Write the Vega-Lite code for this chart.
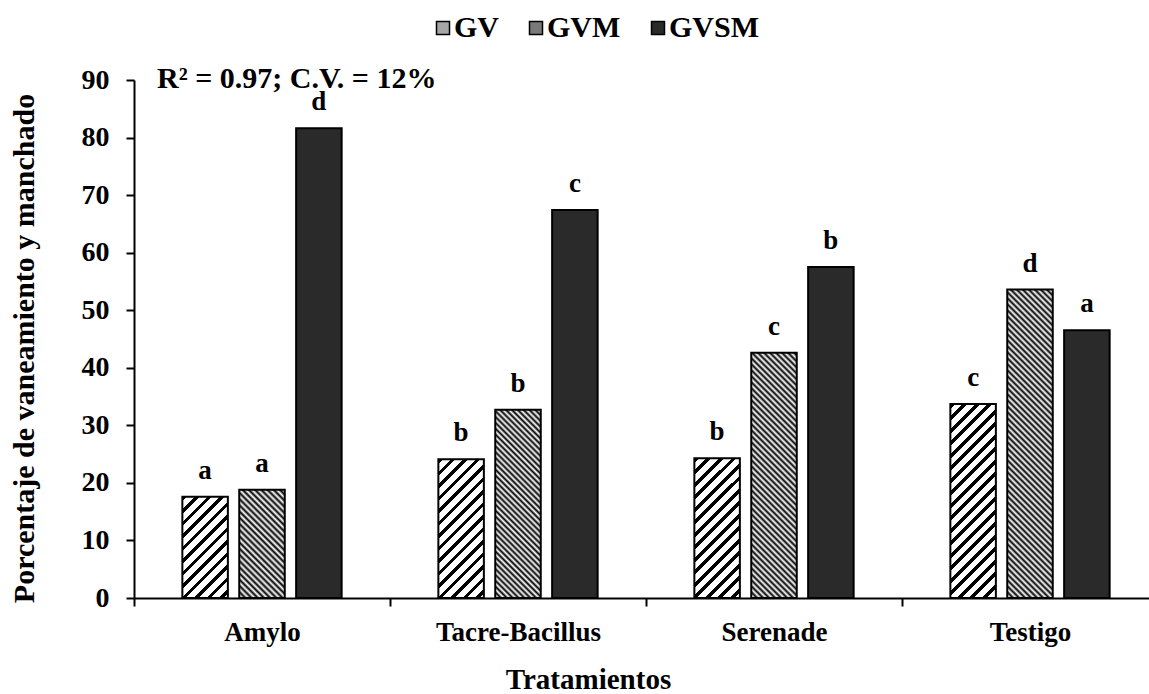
{
"$schema":"https://vega.github.io/schema/vega-lite/v6.json",
"autosize":{"type":"none"},
"width":1015,"height":518,
"padding":{"left":134,"top":80,"right":0,"bottom":96},
"background":"white",
"config":{"view":{"stroke":null},"font":"Liberation Serif",
"axis":{"domainColor":"black","domainWidth":2,"tickColor":"black","tickWidth":2,"tickSize":8,"labelColor":"black","labelFont":"Liberation Serif","labelFontWeight":"bold","labelFontSize":27,"titleColor":"black","titleFont":"Liberation Serif","titleFontWeight":"bold","titleFontSize":29,"grid":false}},
"data":{"values":[
{"trat":"Amylo","serie":"GV","v":17.6,"l":"a"},
{"trat":"Amylo","serie":"GVM","v":18.8,"l":"a"},
{"trat":"Amylo","serie":"GVSM","v":81.6,"l":"d"},
{"trat":"Tacre-Bacillus","serie":"GV","v":24.1,"l":"b"},
{"trat":"Tacre-Bacillus","serie":"GVM","v":32.7,"l":"b"},
{"trat":"Tacre-Bacillus","serie":"GVSM","v":67.4,"l":"c"},
{"trat":"Serenade","serie":"GV","v":24.3,"l":"b"},
{"trat":"Serenade","serie":"GVM","v":42.6,"l":"c"},
{"trat":"Serenade","serie":"GVSM","v":57.5,"l":"b"},
{"trat":"Testigo","serie":"GV","v":33.7,"l":"c"},
{"trat":"Testigo","serie":"GVM","v":53.6,"l":"d"},
{"trat":"Testigo","serie":"GVSM","v":46.5,"l":"a"}
]},
"encoding":{
"x":{"field":"trat","type":"nominal","scale":{"domain":["Amylo","Tacre-Bacillus","Serenade","Testigo"],"range":[0,1024],"paddingInner":0,"paddingOuter":0},"axis":{"title":"Tratamientos","labelAngle":0,"tickBand":"extent","labelPadding":13,"titlePadding":20,"titleX":454}},
"xOffset":{"field":"serie","type":"nominal","scale":{"domain":["GV","GVM","GVSM"],"paddingInner":0.2,"paddingOuter":0.85}},
"y":{"field":"v","type":"quantitative","scale":{"domain":[0,90],"nice":false},"axis":{"title":"Porcentaje de vaneamiento y manchado","values":[0,10,20,30,40,50,60,70,80,90],"labelFontSize":28,"labelPadding":17,"titleFontSize":30,"titlePadding":42,"titleY":268}}
},
"layer":[
{"mark":{"type":"bar","stroke":"black","strokeWidth":2},
"encoding":{
"fill":{"field":"serie","type":"nominal",
"scale":{"domain":["GV","GVM","GVSM"],"range":["#a6a6a6","#7a7a7a","#2a2a2a"]},
"legend":{"orient":"none","legendX":294,"legendY":-67,"direction":"horizontal","columns":3,"title":null,"symbolType":"square","symbolSize":169,"symbolStrokeColor":"black","symbolStrokeWidth":1.5,"symbolOpacity":1,"labelFont":"Liberation Serif","labelFontSize":30,"labelFontWeight":"bold","labelColor":"black","labelOffset":-4,"columnPadding":22},
"condition":[
{"test":"datum.serie=='GV'&&datum.trat=='Amylo'","value":{"gradient":"linear","x1":0,"y1":0,"x2":0.9224,"y2":2.0536,"stops":[{"offset":0,"color":"#000"},{"offset":0.019,"color":"#000"},{"offset":0.019,"color":"#fff"},{"offset":0.05,"color":"#fff"},{"offset":0.05,"color":"#000"},{"offset":0.069,"color":"#000"},{"offset":0.069,"color":"#fff"},{"offset":0.1,"color":"#fff"},{"offset":0.1,"color":"#000"},{"offset":0.119,"color":"#000"},{"offset":0.119,"color":"#fff"},{"offset":0.15,"color":"#fff"},{"offset":0.15,"color":"#000"},{"offset":0.169,"color":"#000"},{"offset":0.169,"color":"#fff"},{"offset":0.2,"color":"#fff"},{"offset":0.2,"color":"#000"},{"offset":0.219,"color":"#000"},{"offset":0.219,"color":"#fff"},{"offset":0.25,"color":"#fff"},{"offset":0.25,"color":"#000"},{"offset":0.269,"color":"#000"},{"offset":0.269,"color":"#fff"},{"offset":0.3,"color":"#fff"},{"offset":0.3,"color":"#000"},{"offset":0.319,"color":"#000"},{"offset":0.319,"color":"#fff"},{"offset":0.35,"color":"#fff"},{"offset":0.35,"color":"#000"},{"offset":0.369,"color":"#000"},{"offset":0.369,"color":"#fff"},{"offset":0.4,"color":"#fff"},{"offset":0.4,"color":"#000"},{"offset":0.419,"color":"#000"},{"offset":0.419,"color":"#fff"},{"offset":0.45,"color":"#fff"},{"offset":0.45,"color":"#000"},{"offset":0.469,"color":"#000"},{"offset":0.469,"color":"#fff"},{"offset":0.5,"color":"#fff"},{"offset":0.5,"color":"#000"},{"offset":0.519,"color":"#000"},{"offset":0.519,"color":"#fff"},{"offset":0.55,"color":"#fff"},{"offset":0.55,"color":"#000"},{"offset":0.569,"color":"#000"},{"offset":0.569,"color":"#fff"},{"offset":0.6,"color":"#fff"},{"offset":0.6,"color":"#000"},{"offset":0.619,"color":"#000"},{"offset":0.619,"color":"#fff"},{"offset":0.65,"color":"#fff"},{"offset":0.65,"color":"#000"},{"offset":0.669,"color":"#000"},{"offset":0.669,"color":"#fff"},{"offset":0.7,"color":"#fff"},{"offset":0.7,"color":"#000"},{"offset":0.719,"color":"#000"},{"offset":0.719,"color":"#fff"},{"offset":0.75,"color":"#fff"},{"offset":0.75,"color":"#000"},{"offset":0.769,"color":"#000"},{"offset":0.769,"color":"#fff"},{"offset":0.8,"color":"#fff"},{"offset":0.8,"color":"#000"},{"offset":0.819,"color":"#000"},{"offset":0.819,"color":"#fff"},{"offset":0.85,"color":"#fff"},{"offset":0.85,"color":"#000"},{"offset":0.869,"color":"#000"},{"offset":0.869,"color":"#fff"},{"offset":0.9,"color":"#fff"},{"offset":0.9,"color":"#000"},{"offset":0.919,"color":"#000"},{"offset":0.919,"color":"#fff"},{"offset":0.95,"color":"#fff"},{"offset":0.95,"color":"#000"},{"offset":0.969,"color":"#000"},{"offset":0.969,"color":"#fff"},{"offset":1,"color":"#fff"}]}},
{"test":"datum.serie=='GV'&&datum.trat=='Tacre-Bacillus'","value":{"gradient":"linear","x1":0,"y1":0,"x2":0.5338,"y2":1.6273,"stops":[{"offset":0,"color":"#000"},{"offset":0.019,"color":"#000"},{"offset":0.019,"color":"#fff"},{"offset":0.05,"color":"#fff"},{"offset":0.05,"color":"#000"},{"offset":0.069,"color":"#000"},{"offset":0.069,"color":"#fff"},{"offset":0.1,"color":"#fff"},{"offset":0.1,"color":"#000"},{"offset":0.119,"color":"#000"},{"offset":0.119,"color":"#fff"},{"offset":0.15,"color":"#fff"},{"offset":0.15,"color":"#000"},{"offset":0.169,"color":"#000"},{"offset":0.169,"color":"#fff"},{"offset":0.2,"color":"#fff"},{"offset":0.2,"color":"#000"},{"offset":0.219,"color":"#000"},{"offset":0.219,"color":"#fff"},{"offset":0.25,"color":"#fff"},{"offset":0.25,"color":"#000"},{"offset":0.269,"color":"#000"},{"offset":0.269,"color":"#fff"},{"offset":0.3,"color":"#fff"},{"offset":0.3,"color":"#000"},{"offset":0.319,"color":"#000"},{"offset":0.319,"color":"#fff"},{"offset":0.35,"color":"#fff"},{"offset":0.35,"color":"#000"},{"offset":0.369,"color":"#000"},{"offset":0.369,"color":"#fff"},{"offset":0.4,"color":"#fff"},{"offset":0.4,"color":"#000"},{"offset":0.419,"color":"#000"},{"offset":0.419,"color":"#fff"},{"offset":0.45,"color":"#fff"},{"offset":0.45,"color":"#000"},{"offset":0.469,"color":"#000"},{"offset":0.469,"color":"#fff"},{"offset":0.5,"color":"#fff"},{"offset":0.5,"color":"#000"},{"offset":0.519,"color":"#000"},{"offset":0.519,"color":"#fff"},{"offset":0.55,"color":"#fff"},{"offset":0.55,"color":"#000"},{"offset":0.569,"color":"#000"},{"offset":0.569,"color":"#fff"},{"offset":0.6,"color":"#fff"},{"offset":0.6,"color":"#000"},{"offset":0.619,"color":"#000"},{"offset":0.619,"color":"#fff"},{"offset":0.65,"color":"#fff"},{"offset":0.65,"color":"#000"},{"offset":0.669,"color":"#000"},{"offset":0.669,"color":"#fff"},{"offset":0.7,"color":"#fff"},{"offset":0.7,"color":"#000"},{"offset":0.719,"color":"#000"},{"offset":0.719,"color":"#fff"},{"offset":0.75,"color":"#fff"},{"offset":0.75,"color":"#000"},{"offset":0.769,"color":"#000"},{"offset":0.769,"color":"#fff"},{"offset":0.8,"color":"#fff"},{"offset":0.8,"color":"#000"},{"offset":0.819,"color":"#000"},{"offset":0.819,"color":"#fff"},{"offset":0.85,"color":"#fff"},{"offset":0.85,"color":"#000"},{"offset":0.869,"color":"#000"},{"offset":0.869,"color":"#fff"},{"offset":0.9,"color":"#fff"},{"offset":0.9,"color":"#000"},{"offset":0.919,"color":"#000"},{"offset":0.919,"color":"#fff"},{"offset":0.95,"color":"#fff"},{"offset":0.95,"color":"#000"},{"offset":0.969,"color":"#000"},{"offset":0.969,"color":"#fff"},{"offset":1,"color":"#fff"}]}},
{"test":"datum.serie=='GV'&&datum.trat=='Serenade'","value":{"gradient":"linear","x1":0,"y1":0,"x2":0.5256,"y2":1.6161,"stops":[{"offset":0,"color":"#000"},{"offset":0.019,"color":"#000"},{"offset":0.019,"color":"#fff"},{"offset":0.05,"color":"#fff"},{"offset":0.05,"color":"#000"},{"offset":0.069,"color":"#000"},{"offset":0.069,"color":"#fff"},{"offset":0.1,"color":"#fff"},{"offset":0.1,"color":"#000"},{"offset":0.119,"color":"#000"},{"offset":0.119,"color":"#fff"},{"offset":0.15,"color":"#fff"},{"offset":0.15,"color":"#000"},{"offset":0.169,"color":"#000"},{"offset":0.169,"color":"#fff"},{"offset":0.2,"color":"#fff"},{"offset":0.2,"color":"#000"},{"offset":0.219,"color":"#000"},{"offset":0.219,"color":"#fff"},{"offset":0.25,"color":"#fff"},{"offset":0.25,"color":"#000"},{"offset":0.269,"color":"#000"},{"offset":0.269,"color":"#fff"},{"offset":0.3,"color":"#fff"},{"offset":0.3,"color":"#000"},{"offset":0.319,"color":"#000"},{"offset":0.319,"color":"#fff"},{"offset":0.35,"color":"#fff"},{"offset":0.35,"color":"#000"},{"offset":0.369,"color":"#000"},{"offset":0.369,"color":"#fff"},{"offset":0.4,"color":"#fff"},{"offset":0.4,"color":"#000"},{"offset":0.419,"color":"#000"},{"offset":0.419,"color":"#fff"},{"offset":0.45,"color":"#fff"},{"offset":0.45,"color":"#000"},{"offset":0.469,"color":"#000"},{"offset":0.469,"color":"#fff"},{"offset":0.5,"color":"#fff"},{"offset":0.5,"color":"#000"},{"offset":0.519,"color":"#000"},{"offset":0.519,"color":"#fff"},{"offset":0.55,"color":"#fff"},{"offset":0.55,"color":"#000"},{"offset":0.569,"color":"#000"},{"offset":0.569,"color":"#fff"},{"offset":0.6,"color":"#fff"},{"offset":0.6,"color":"#000"},{"offset":0.619,"color":"#000"},{"offset":0.619,"color":"#fff"},{"offset":0.65,"color":"#fff"},{"offset":0.65,"color":"#000"},{"offset":0.669,"color":"#000"},{"offset":0.669,"color":"#fff"},{"offset":0.7,"color":"#fff"},{"offset":0.7,"color":"#000"},{"offset":0.719,"color":"#000"},{"offset":0.719,"color":"#fff"},{"offset":0.75,"color":"#fff"},{"offset":0.75,"color":"#000"},{"offset":0.769,"color":"#000"},{"offset":0.769,"color":"#fff"},{"offset":0.8,"color":"#fff"},{"offset":0.8,"color":"#000"},{"offset":0.819,"color":"#000"},{"offset":0.819,"color":"#fff"},{"offset":0.85,"color":"#fff"},{"offset":0.85,"color":"#000"},{"offset":0.869,"color":"#000"},{"offset":0.869,"color":"#fff"},{"offset":0.9,"color":"#fff"},{"offset":0.9,"color":"#000"},{"offset":0.919,"color":"#000"},{"offset":0.919,"color":"#fff"},{"offset":0.95,"color":"#fff"},{"offset":0.95,"color":"#000"},{"offset":0.969,"color":"#000"},{"offset":0.969,"color":"#fff"},{"offset":1,"color":"#fff"}]}},
{"test":"datum.serie=='GV'&&datum.trat=='Testigo'","value":{"gradient":"linear","x1":0,"y1":0,"x2":0.2865,"y2":1.2215,"stops":[{"offset":0,"color":"#000"},{"offset":0.019,"color":"#000"},{"offset":0.019,"color":"#fff"},{"offset":0.05,"color":"#fff"},{"offset":0.05,"color":"#000"},{"offset":0.069,"color":"#000"},{"offset":0.069,"color":"#fff"},{"offset":0.1,"color":"#fff"},{"offset":0.1,"color":"#000"},{"offset":0.119,"color":"#000"},{"offset":0.119,"color":"#fff"},{"offset":0.15,"color":"#fff"},{"offset":0.15,"color":"#000"},{"offset":0.169,"color":"#000"},{"offset":0.169,"color":"#fff"},{"offset":0.2,"color":"#fff"},{"offset":0.2,"color":"#000"},{"offset":0.219,"color":"#000"},{"offset":0.219,"color":"#fff"},{"offset":0.25,"color":"#fff"},{"offset":0.25,"color":"#000"},{"offset":0.269,"color":"#000"},{"offset":0.269,"color":"#fff"},{"offset":0.3,"color":"#fff"},{"offset":0.3,"color":"#000"},{"offset":0.319,"color":"#000"},{"offset":0.319,"color":"#fff"},{"offset":0.35,"color":"#fff"},{"offset":0.35,"color":"#000"},{"offset":0.369,"color":"#000"},{"offset":0.369,"color":"#fff"},{"offset":0.4,"color":"#fff"},{"offset":0.4,"color":"#000"},{"offset":0.419,"color":"#000"},{"offset":0.419,"color":"#fff"},{"offset":0.45,"color":"#fff"},{"offset":0.45,"color":"#000"},{"offset":0.469,"color":"#000"},{"offset":0.469,"color":"#fff"},{"offset":0.5,"color":"#fff"},{"offset":0.5,"color":"#000"},{"offset":0.519,"color":"#000"},{"offset":0.519,"color":"#fff"},{"offset":0.55,"color":"#fff"},{"offset":0.55,"color":"#000"},{"offset":0.569,"color":"#000"},{"offset":0.569,"color":"#fff"},{"offset":0.6,"color":"#fff"},{"offset":0.6,"color":"#000"},{"offset":0.619,"color":"#000"},{"offset":0.619,"color":"#fff"},{"offset":0.65,"color":"#fff"},{"offset":0.65,"color":"#000"},{"offset":0.669,"color":"#000"},{"offset":0.669,"color":"#fff"},{"offset":0.7,"color":"#fff"},{"offset":0.7,"color":"#000"},{"offset":0.719,"color":"#000"},{"offset":0.719,"color":"#fff"},{"offset":0.75,"color":"#fff"},{"offset":0.75,"color":"#000"},{"offset":0.769,"color":"#000"},{"offset":0.769,"color":"#fff"},{"offset":0.8,"color":"#fff"},{"offset":0.8,"color":"#000"},{"offset":0.819,"color":"#000"},{"offset":0.819,"color":"#fff"},{"offset":0.85,"color":"#fff"},{"offset":0.85,"color":"#000"},{"offset":0.869,"color":"#000"},{"offset":0.869,"color":"#fff"},{"offset":0.9,"color":"#fff"},{"offset":0.9,"color":"#000"},{"offset":0.919,"color":"#000"},{"offset":0.919,"color":"#fff"},{"offset":0.95,"color":"#fff"},{"offset":0.95,"color":"#000"},{"offset":0.969,"color":"#000"},{"offset":0.969,"color":"#fff"},{"offset":1,"color":"#fff"}]}},
{"test":"datum.serie=='GVM'&&datum.trat=='Amylo'","value":{"gradient":"linear","x1":0,"y1":1,"x2":0.5119,"y2":-0.2173,"stops":[{"offset":0,"color":"#000"},{"offset":0.02,"color":"#fff"},{"offset":0.04,"color":"#000"},{"offset":0.06,"color":"#fff"},{"offset":0.08,"color":"#000"},{"offset":0.1,"color":"#fff"},{"offset":0.12,"color":"#000"},{"offset":0.14,"color":"#fff"},{"offset":0.16,"color":"#000"},{"offset":0.18,"color":"#fff"},{"offset":0.2,"color":"#000"},{"offset":0.22,"color":"#fff"},{"offset":0.24,"color":"#000"},{"offset":0.26,"color":"#fff"},{"offset":0.28,"color":"#000"},{"offset":0.3,"color":"#fff"},{"offset":0.32,"color":"#000"},{"offset":0.34,"color":"#fff"},{"offset":0.36,"color":"#000"},{"offset":0.38,"color":"#fff"},{"offset":0.4,"color":"#000"},{"offset":0.42,"color":"#fff"},{"offset":0.44,"color":"#000"},{"offset":0.46,"color":"#fff"},{"offset":0.48,"color":"#000"},{"offset":0.5,"color":"#fff"},{"offset":0.52,"color":"#000"},{"offset":0.54,"color":"#fff"},{"offset":0.56,"color":"#000"},{"offset":0.58,"color":"#fff"},{"offset":0.6,"color":"#000"},{"offset":0.62,"color":"#fff"},{"offset":0.64,"color":"#000"},{"offset":0.66,"color":"#fff"},{"offset":0.68,"color":"#000"},{"offset":0.7,"color":"#fff"},{"offset":0.72,"color":"#000"},{"offset":0.74,"color":"#fff"},{"offset":0.76,"color":"#000"},{"offset":0.78,"color":"#fff"},{"offset":0.8,"color":"#000"},{"offset":0.82,"color":"#fff"},{"offset":0.84,"color":"#000"},{"offset":0.86,"color":"#fff"},{"offset":0.88,"color":"#000"},{"offset":0.9,"color":"#fff"},{"offset":0.92,"color":"#000"},{"offset":0.94,"color":"#fff"},{"offset":0.96,"color":"#000"},{"offset":0.98,"color":"#fff"},{"offset":1,"color":"#000"}]}},
{"test":"datum.serie=='GVM'&&datum.trat=='Tacre-Bacillus'","value":{"gradient":"linear","x1":0,"y1":1,"x2":0.284,"y2":-0.1747,"stops":[{"offset":0,"color":"#000"},{"offset":0.0125,"color":"#fff"},{"offset":0.025,"color":"#000"},{"offset":0.0375,"color":"#fff"},{"offset":0.05,"color":"#000"},{"offset":0.0625,"color":"#fff"},{"offset":0.075,"color":"#000"},{"offset":0.0875,"color":"#fff"},{"offset":0.1,"color":"#000"},{"offset":0.1125,"color":"#fff"},{"offset":0.125,"color":"#000"},{"offset":0.1375,"color":"#fff"},{"offset":0.15,"color":"#000"},{"offset":0.1625,"color":"#fff"},{"offset":0.175,"color":"#000"},{"offset":0.1875,"color":"#fff"},{"offset":0.2,"color":"#000"},{"offset":0.2125,"color":"#fff"},{"offset":0.225,"color":"#000"},{"offset":0.2375,"color":"#fff"},{"offset":0.25,"color":"#000"},{"offset":0.2625,"color":"#fff"},{"offset":0.275,"color":"#000"},{"offset":0.2875,"color":"#fff"},{"offset":0.3,"color":"#000"},{"offset":0.3125,"color":"#fff"},{"offset":0.325,"color":"#000"},{"offset":0.3375,"color":"#fff"},{"offset":0.35,"color":"#000"},{"offset":0.3625,"color":"#fff"},{"offset":0.375,"color":"#000"},{"offset":0.3875,"color":"#fff"},{"offset":0.4,"color":"#000"},{"offset":0.4125,"color":"#fff"},{"offset":0.425,"color":"#000"},{"offset":0.4375,"color":"#fff"},{"offset":0.45,"color":"#000"},{"offset":0.4625,"color":"#fff"},{"offset":0.475,"color":"#000"},{"offset":0.4875,"color":"#fff"},{"offset":0.5,"color":"#000"},{"offset":0.5125,"color":"#fff"},{"offset":0.525,"color":"#000"},{"offset":0.5375,"color":"#fff"},{"offset":0.55,"color":"#000"},{"offset":0.5625,"color":"#fff"},{"offset":0.575,"color":"#000"},{"offset":0.5875,"color":"#fff"},{"offset":0.6,"color":"#000"},{"offset":0.6125,"color":"#fff"},{"offset":0.625,"color":"#000"},{"offset":0.6375,"color":"#fff"},{"offset":0.65,"color":"#000"},{"offset":0.6625,"color":"#fff"},{"offset":0.675,"color":"#000"},{"offset":0.6875,"color":"#fff"},{"offset":0.7,"color":"#000"},{"offset":0.7125,"color":"#fff"},{"offset":0.725,"color":"#000"},{"offset":0.7375,"color":"#fff"},{"offset":0.75,"color":"#000"},{"offset":0.7625,"color":"#fff"},{"offset":0.775,"color":"#000"},{"offset":0.7875,"color":"#fff"},{"offset":0.8,"color":"#000"},{"offset":0.8125,"color":"#fff"},{"offset":0.825,"color":"#000"},{"offset":0.8375,"color":"#fff"},{"offset":0.85,"color":"#000"},{"offset":0.8625,"color":"#fff"},{"offset":0.875,"color":"#000"},{"offset":0.8875,"color":"#fff"},{"offset":0.9,"color":"#000"},{"offset":0.9125,"color":"#fff"},{"offset":0.925,"color":"#000"},{"offset":0.9375,"color":"#fff"},{"offset":0.95,"color":"#000"},{"offset":0.9625,"color":"#fff"},{"offset":0.975,"color":"#000"},{"offset":0.9875,"color":"#fff"},{"offset":1,"color":"#000"}]}},
{"test":"datum.serie=='GVM'&&datum.trat=='Serenade'","value":{"gradient":"linear","x1":0,"y1":1,"x2":0.2195,"y2":-0.1828,"stops":[{"offset":0,"color":"#000"},{"offset":0.01,"color":"#fff"},{"offset":0.02,"color":"#000"},{"offset":0.03,"color":"#fff"},{"offset":0.04,"color":"#000"},{"offset":0.05,"color":"#fff"},{"offset":0.06,"color":"#000"},{"offset":0.07,"color":"#fff"},{"offset":0.08,"color":"#000"},{"offset":0.09,"color":"#fff"},{"offset":0.1,"color":"#000"},{"offset":0.11,"color":"#fff"},{"offset":0.12,"color":"#000"},{"offset":0.13,"color":"#fff"},{"offset":0.14,"color":"#000"},{"offset":0.15,"color":"#fff"},{"offset":0.16,"color":"#000"},{"offset":0.17,"color":"#fff"},{"offset":0.18,"color":"#000"},{"offset":0.19,"color":"#fff"},{"offset":0.2,"color":"#000"},{"offset":0.21,"color":"#fff"},{"offset":0.22,"color":"#000"},{"offset":0.23,"color":"#fff"},{"offset":0.24,"color":"#000"},{"offset":0.25,"color":"#fff"},{"offset":0.26,"color":"#000"},{"offset":0.27,"color":"#fff"},{"offset":0.28,"color":"#000"},{"offset":0.29,"color":"#fff"},{"offset":0.3,"color":"#000"},{"offset":0.31,"color":"#fff"},{"offset":0.32,"color":"#000"},{"offset":0.33,"color":"#fff"},{"offset":0.34,"color":"#000"},{"offset":0.35,"color":"#fff"},{"offset":0.36,"color":"#000"},{"offset":0.37,"color":"#fff"},{"offset":0.38,"color":"#000"},{"offset":0.39,"color":"#fff"},{"offset":0.4,"color":"#000"},{"offset":0.41,"color":"#fff"},{"offset":0.42,"color":"#000"},{"offset":0.43,"color":"#fff"},{"offset":0.44,"color":"#000"},{"offset":0.45,"color":"#fff"},{"offset":0.46,"color":"#000"},{"offset":0.47,"color":"#fff"},{"offset":0.48,"color":"#000"},{"offset":0.49,"color":"#fff"},{"offset":0.5,"color":"#000"},{"offset":0.51,"color":"#fff"},{"offset":0.52,"color":"#000"},{"offset":0.53,"color":"#fff"},{"offset":0.54,"color":"#000"},{"offset":0.55,"color":"#fff"},{"offset":0.56,"color":"#000"},{"offset":0.57,"color":"#fff"},{"offset":0.58,"color":"#000"},{"offset":0.59,"color":"#fff"},{"offset":0.6,"color":"#000"},{"offset":0.61,"color":"#fff"},{"offset":0.62,"color":"#000"},{"offset":0.63,"color":"#fff"},{"offset":0.64,"color":"#000"},{"offset":0.65,"color":"#fff"},{"offset":0.66,"color":"#000"},{"offset":0.67,"color":"#fff"},{"offset":0.68,"color":"#000"},{"offset":0.69,"color":"#fff"},{"offset":0.7,"color":"#000"},{"offset":0.71,"color":"#fff"},{"offset":0.72,"color":"#000"},{"offset":0.73,"color":"#fff"},{"offset":0.74,"color":"#000"},{"offset":0.75,"color":"#fff"},{"offset":0.76,"color":"#000"},{"offset":0.77,"color":"#fff"},{"offset":0.78,"color":"#000"},{"offset":0.79,"color":"#fff"},{"offset":0.8,"color":"#000"},{"offset":0.81,"color":"#fff"},{"offset":0.82,"color":"#000"},{"offset":0.83,"color":"#fff"},{"offset":0.84,"color":"#000"},{"offset":0.85,"color":"#fff"},{"offset":0.86,"color":"#000"},{"offset":0.87,"color":"#fff"},{"offset":0.88,"color":"#000"},{"offset":0.89,"color":"#fff"},{"offset":0.9,"color":"#000"},{"offset":0.91,"color":"#fff"},{"offset":0.92,"color":"#000"},{"offset":0.93,"color":"#fff"},{"offset":0.94,"color":"#000"},{"offset":0.95,"color":"#fff"},{"offset":0.96,"color":"#000"},{"offset":0.97,"color":"#fff"},{"offset":0.98,"color":"#000"},{"offset":0.99,"color":"#fff"},{"offset":1,"color":"#000"}]}},
{"test":"datum.serie=='GVM'&&datum.trat=='Testigo'","value":{"gradient":"linear","x1":0,"y1":1,"x2":0.1684,"y2":-0.1421,"stops":[{"offset":0,"color":"#000"},{"offset":0.0083,"color":"#fff"},{"offset":0.0167,"color":"#000"},{"offset":0.025,"color":"#fff"},{"offset":0.0333,"color":"#000"},{"offset":0.0417,"color":"#fff"},{"offset":0.05,"color":"#000"},{"offset":0.0583,"color":"#fff"},{"offset":0.0667,"color":"#000"},{"offset":0.075,"color":"#fff"},{"offset":0.0833,"color":"#000"},{"offset":0.0917,"color":"#fff"},{"offset":0.1,"color":"#000"},{"offset":0.1083,"color":"#fff"},{"offset":0.1167,"color":"#000"},{"offset":0.125,"color":"#fff"},{"offset":0.1333,"color":"#000"},{"offset":0.1417,"color":"#fff"},{"offset":0.15,"color":"#000"},{"offset":0.1583,"color":"#fff"},{"offset":0.1667,"color":"#000"},{"offset":0.175,"color":"#fff"},{"offset":0.1833,"color":"#000"},{"offset":0.1917,"color":"#fff"},{"offset":0.2,"color":"#000"},{"offset":0.2083,"color":"#fff"},{"offset":0.2167,"color":"#000"},{"offset":0.225,"color":"#fff"},{"offset":0.2333,"color":"#000"},{"offset":0.2417,"color":"#fff"},{"offset":0.25,"color":"#000"},{"offset":0.2583,"color":"#fff"},{"offset":0.2667,"color":"#000"},{"offset":0.275,"color":"#fff"},{"offset":0.2833,"color":"#000"},{"offset":0.2917,"color":"#fff"},{"offset":0.3,"color":"#000"},{"offset":0.3083,"color":"#fff"},{"offset":0.3167,"color":"#000"},{"offset":0.325,"color":"#fff"},{"offset":0.3333,"color":"#000"},{"offset":0.3417,"color":"#fff"},{"offset":0.35,"color":"#000"},{"offset":0.3583,"color":"#fff"},{"offset":0.3667,"color":"#000"},{"offset":0.375,"color":"#fff"},{"offset":0.3833,"color":"#000"},{"offset":0.3917,"color":"#fff"},{"offset":0.4,"color":"#000"},{"offset":0.4083,"color":"#fff"},{"offset":0.4167,"color":"#000"},{"offset":0.425,"color":"#fff"},{"offset":0.4333,"color":"#000"},{"offset":0.4417,"color":"#fff"},{"offset":0.45,"color":"#000"},{"offset":0.4583,"color":"#fff"},{"offset":0.4667,"color":"#000"},{"offset":0.475,"color":"#fff"},{"offset":0.4833,"color":"#000"},{"offset":0.4917,"color":"#fff"},{"offset":0.5,"color":"#000"},{"offset":0.5083,"color":"#fff"},{"offset":0.5167,"color":"#000"},{"offset":0.525,"color":"#fff"},{"offset":0.5333,"color":"#000"},{"offset":0.5417,"color":"#fff"},{"offset":0.55,"color":"#000"},{"offset":0.5583,"color":"#fff"},{"offset":0.5667,"color":"#000"},{"offset":0.575,"color":"#fff"},{"offset":0.5833,"color":"#000"},{"offset":0.5917,"color":"#fff"},{"offset":0.6,"color":"#000"},{"offset":0.6083,"color":"#fff"},{"offset":0.6167,"color":"#000"},{"offset":0.625,"color":"#fff"},{"offset":0.6333,"color":"#000"},{"offset":0.6417,"color":"#fff"},{"offset":0.65,"color":"#000"},{"offset":0.6583,"color":"#fff"},{"offset":0.6667,"color":"#000"},{"offset":0.675,"color":"#fff"},{"offset":0.6833,"color":"#000"},{"offset":0.6917,"color":"#fff"},{"offset":0.7,"color":"#000"},{"offset":0.7083,"color":"#fff"},{"offset":0.7167,"color":"#000"},{"offset":0.725,"color":"#fff"},{"offset":0.7333,"color":"#000"},{"offset":0.7417,"color":"#fff"},{"offset":0.75,"color":"#000"},{"offset":0.7583,"color":"#fff"},{"offset":0.7667,"color":"#000"},{"offset":0.775,"color":"#fff"},{"offset":0.7833,"color":"#000"},{"offset":0.7917,"color":"#fff"},{"offset":0.8,"color":"#000"},{"offset":0.8083,"color":"#fff"},{"offset":0.8167,"color":"#000"},{"offset":0.825,"color":"#fff"},{"offset":0.8333,"color":"#000"},{"offset":0.8417,"color":"#fff"},{"offset":0.85,"color":"#000"},{"offset":0.8583,"color":"#fff"},{"offset":0.8667,"color":"#000"},{"offset":0.875,"color":"#fff"},{"offset":0.8833,"color":"#000"},{"offset":0.8917,"color":"#fff"},{"offset":0.9,"color":"#000"},{"offset":0.9083,"color":"#fff"},{"offset":0.9167,"color":"#000"},{"offset":0.925,"color":"#fff"},{"offset":0.9333,"color":"#000"},{"offset":0.9417,"color":"#fff"},{"offset":0.95,"color":"#000"},{"offset":0.9583,"color":"#fff"},{"offset":0.9667,"color":"#000"},{"offset":0.975,"color":"#fff"},{"offset":0.9833,"color":"#000"},{"offset":0.9917,"color":"#fff"},{"offset":1,"color":"#000"}]}}
]}}},
{"mark":{"type":"text","font":"Liberation Serif","fontSize":27,"fontWeight":"bold","color":"black","baseline":"alphabetic","dy":-18},
"encoding":{"text":{"field":"l"}}},
{"data":{"values":[{"trat":"Amylo","serie":"GV","v":90,"t":"R² = 0.97; C.V. = 12%"}]},
"mark":{"type":"text","font":"Liberation Serif","fontSize":30,"fontWeight":"bold","color":"black","align":"left","baseline":"alphabetic","dx":-48,"dy":8},
"encoding":{"text":{"field":"t"}}}
]
}
